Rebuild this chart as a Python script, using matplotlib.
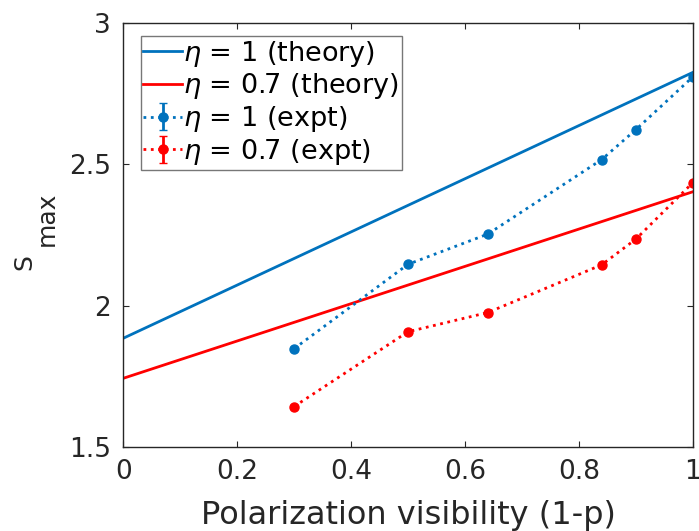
import matplotlib
matplotlib.use("Agg")
from matplotlib import pyplot as plt

# theory lines (straight, endpoints at x=0 and x=1)
theory_x = [0.0, 1.0]
theory_eta1 = [1.884, 2.826]
theory_eta07 = [1.742, 2.403]

# experiment points
expt_x = [0.3, 0.5, 0.64, 0.84, 0.9, 1.0]
expt_eta1 = [1.847, 2.146, 2.253, 2.517, 2.623, 2.810]
expt_eta07 = [1.642, 1.907, 1.975, 2.144, 2.235, 2.435]
expt_err = [0.005, 0.005, 0.005, 0.005, 0.005, 0.005]

blue = "#0072BD"
red = "#FF0000"
axcol = "#262626"

fig = plt.figure(figsize=(6.99, 5.31), dpi=100)
ax = fig.add_axes([0.1764, 0.159, 0.8146, 0.797])

ax.plot(theory_x, theory_eta1, color=blue, lw=2, label=r"$\eta$ = 1 (theory)")
ax.plot(theory_x, theory_eta07, color=red, lw=2, label=r"$\eta$ = 0.7 (theory)")
ax.errorbar(expt_x, expt_eta1, yerr=expt_err, color=blue, ls=":", lw=2,
            marker="o", ms=6.5, capsize=3, elinewidth=2, label=r"$\eta$ = 1 (expt)")
ax.errorbar(expt_x, expt_eta07, yerr=expt_err, color=red, ls=":", lw=2,
            marker="o", ms=6.5, capsize=3, elinewidth=2, label=r"$\eta$ = 0.7 (expt)")

ax.set_xlim(0, 1)
ax.set_ylim(1.5, 3)
ax.set_xticks([0, 0.2, 0.4, 0.6, 0.8, 1])
ax.set_xticklabels(["0", "0.2", "0.4", "0.6", "0.8", "1"])
ax.set_yticks([1.5, 2, 2.5, 3])
ax.set_yticklabels(["1.5", "2", "2.5", "3"])
ax.tick_params(direction="in", top=True, right=True, labelsize=19,
               colors=axcol, length=4, pad=9)
for s in ax.spines.values():
    s.set_color(axcol)
    s.set_linewidth(1)

ax.set_xlabel("Polarization visibility (1-p)", fontsize=23, color=axcol, labelpad=11)

# y label: S with a full-size "max" subscript, like the original
ax.text(-0.1744, 0.437, "S", rotation=90, ha="center", va="center",
        fontsize=18, color=axcol, transform=ax.transAxes)
ax.text(-0.1349, 0.538, "max", rotation=90, ha="center", va="center",
        fontsize=18, color=axcol, transform=ax.transAxes)

leg = ax.legend(loc="upper left", bbox_to_anchor=(0.0306, 0.970), borderaxespad=0,
                fontsize=19.5, frameon=True, fancybox=False,
                edgecolor="#777777", framealpha=1, handlelength=1.42,
                handletextpad=0.05, borderpad=0.1, labelspacing=0.1)
leg.get_frame().set_linewidth(1)

fig.savefig("out.png", dpi=100)
